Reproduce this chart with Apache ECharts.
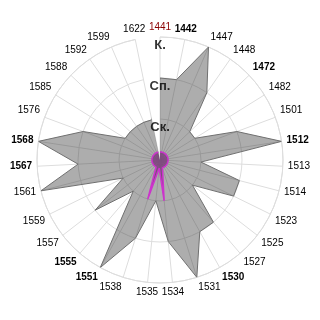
<!DOCTYPE html>
<html>
<head>
<meta charset="utf-8">
<script src="https://cdn.jsdelivr.net/npm/echarts@6/dist/echarts.min.js"></script>
<style>html,body{margin:0;padding:0;background:#fff;}#c{width:320px;height:320px;}</style>
</head>
<body>
<div id="c"></div>
<script>
var categories = ['1441','1442','1447','1448','1472','1482','1501','1512','1513','1514','1523','1525','1527','1530','1531','1534','1535','1538','1551','1555','1557','1559','1561','1567','1568','1576','1585','1588','1592','1599','1622'];
var grayValues = [2,2,3,2,1,1,2,3,1,2,2,1,2,2,3,2,1,2,3,1,2,1,3,2,3,2,1,1,1,1,1];
var magentaValues = [0.2,0.2,0.2,0.2,0.2,0.2,0.2,0.2,0.2,0.2,0.2,0.2,0.2,0.2,0.2,1,0.2,1,0.2,0.2,0.2,0.2,0.2,0.2,0.2,0.2,0.2,0.2,0.2,0.2,0.2];
var boldCategories = ['1442','1472','1512','1530','1551','1555','1567','1568'];
var redCategories = ['1441'];
var radialTicks = [1,2,3];
var radialLabels = ['Ск.','Сп.','К.'];

function closed(vals){
  var d = vals.map(function(v,i){return [v,i];});
  d.push([vals[0],0]);
  return d;
}
var chart = echarts.init(document.getElementById('c'));
var FONT = '"Liberation Sans Narrow","Arial Narrow","Liberation Sans",Arial,sans-serif';
chart.setOption({
  animation:false,
  polar:{center:['50%','50%'], radius:123},
  angleAxis:{
    type:'category', data:categories, startAngle:90, clockwise:true, boundaryGap:false,
    axisLine:{show:true, lineStyle:{color:'#dddddd', width:1}},
    axisTick:{show:false},
    splitLine:{show:true, lineStyle:{color:'#dddddd', width:1}},
    axisLabel:{
      interval:0, margin:5, fontSize:10, fontFamily:FONT, color:'#000',
      formatter:function(v){
        if(redCategories.indexOf(v)>=0) return '{r|'+v+'}';
        if(boldCategories.indexOf(v)>=0) return '{b|'+v+'}';
        return v;
      },
      rich:{
        r:{color:'#8b0000', fontSize:10, fontFamily:FONT},
        b:{color:'#000', fontWeight:'bold', fontSize:10, fontFamily:FONT}
      }
    }
  },
  radiusAxis:{
    type:'value', min:0, max:3, interval:1,
    axisLine:{show:false}, axisTick:{show:false}, axisLabel:{show:false},
    splitLine:{show:true, lineStyle:{color:'#dddddd', width:1}}
  },
  series:[
    {
      type:'line', coordinateSystem:'polar', data:closed(grayValues),
      showSymbol:false, symbol:'none', smooth:false,
      lineStyle:{color:'#707070', width:1},
      areaStyle:{color:'rgba(50,50,50,0.4)', opacity:1},
      z:2
    },
    {
      type:'line', coordinateSystem:'polar', data:closed(magentaValues),
      showSymbol:false, symbol:'none',
      lineStyle:{color:'#cc33cc', width:1.5},
      areaStyle:{color:'rgba(100,0,100,0.5)', opacity:1},
      z:3
    },
    {
      type:'scatter', coordinateSystem:'polar', symbolSize:0,
      data:radialTicks.map(function(t){return [t,0];}),
      label:{show:true, position:'bottom', distance:2, color:'#000', fontSize:13, fontWeight:'bold', fontFamily:'"Liberation Sans",Arial,sans-serif',
        formatter:function(p){return radialLabels[radialTicks.indexOf(p.value[0])];}},
      z:4
    }
  ]
});
</script>
</body>
</html>
